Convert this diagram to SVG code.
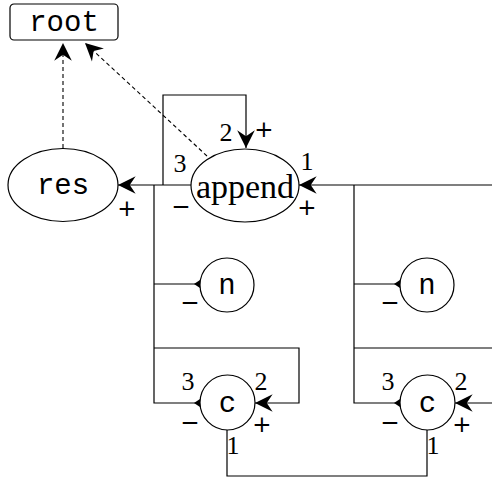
<svg xmlns="http://www.w3.org/2000/svg" width="492" height="483" viewBox="0 0 492 483">
<style>
.ln{fill:none;stroke:#000;stroke-width:1.2}
.dash{fill:none;stroke:#000;stroke-width:1.1;stroke-dasharray:4,3}
.shape{fill:#fff;stroke:#000;stroke-width:1.2}
.mono{font-family:"Liberation Mono","DejaVu Sans Mono",monospace;font-size:29px;text-anchor:middle;dominant-baseline:central}
.rom{font-family:"Liberation Serif","DejaVu Serif",serif;text-anchor:middle;dominant-baseline:central}
.num{font-family:"Liberation Serif","DejaVu Serif",serif;font-size:26px;text-anchor:middle;dominant-baseline:central}
.sgn{font-family:"DejaVu Sans","Liberation Sans",sans-serif;font-size:23px;text-anchor:middle;dominant-baseline:central}
</style>
<defs>
<marker id="ah" markerUnits="userSpaceOnUse" markerWidth="20" markerHeight="20" viewBox="-16 -8 17 16" refX="0" refY="0" orient="auto">
<path d="M0,0 L-15,-7.5 L-10,0 L-15,7.5 Z" fill="#000"/>
</marker>
</defs>
<g id="connectors">
<path class="dash" d="M63,148 L63,43" marker-end="url(#ah)"/>
<path class="dash" d="M207,156 L85,43" marker-end="url(#ah)"/>
<path class="ln" d="M191,185 L118,185" marker-end="url(#ah)"/>
<path class="ln" d="M163,185 L163,95 L246,95 L246,148" marker-end="url(#ah)"/>
<path class="ln" d="M492,185 L299,185" marker-end="url(#ah)"/>
<path class="ln" d="M154,185 L154,403 L200,403"/>
<path class="ln" d="M154,284 L200,284"/>
<path class="ln" d="M154,348 L299,348 L299,403 L255,403" marker-end="url(#ah)"/>
<path class="ln" d="M354,185 L354,403 L400,403"/>
<path class="ln" d="M354,284 L400,284"/>
<path class="ln" d="M354,348 L492,348"/>
<path class="ln" d="M492,403 L455,403" marker-end="url(#ah)"/>
<path class="ln" d="M227,430 L227,476 L427,476 L427,430"/>
<path d="M194,284 L200,280 L200,288 Z" fill="#000"/>
<path d="M394,284 L400,280 L400,288 Z" fill="#000"/>
<path d="M194,403 L200,399 L200,407 Z" fill="#000"/>
<path d="M394,403 L400,399 L400,407 Z" fill="#000"/>
</g>
<g id="root">
<rect class="shape" x="10" y="4" width="108" height="36" rx="4"/>
<text class="mono" x="64" y="23">root</text>
</g>
<g id="res">
<ellipse class="shape" cx="63" cy="185" rx="55" ry="36.5"/>
<text class="mono" x="63" y="186">res</text>
<text class="sgn" x="127" y="208">+</text>
</g>
<g id="append">
<ellipse class="shape" cx="245" cy="185.5" rx="54" ry="36.5"/>
<text class="rom" x="245" y="186" style="font-size:34px">append</text>
<text class="num" x="180" y="163">3</text>
<text class="sgn" x="181" y="206">−</text>
<text class="num" x="226" y="132">2</text>
<text class="sgn" x="264" y="129">+</text>
<text class="num" x="307" y="161">1</text>
<text class="sgn" x="307" y="207">+</text>
</g>
<g id="n1">
<circle class="shape" cx="227" cy="285" r="27"/>
<text class="mono" x="227" y="286">n</text>
<text class="sgn" x="190" y="302">−</text>
</g>
<g id="n2">
<circle class="shape" cx="427" cy="285" r="27"/>
<text class="mono" x="427" y="286">n</text>
<text class="sgn" x="390" y="302">−</text>
</g>
<g id="c1">
<circle class="shape" cx="227.5" cy="402.5" r="27.5"/>
<text class="mono" x="227.5" y="404">c</text>
<text class="num" x="188" y="381">3</text>
<text class="num" x="261" y="381">2</text>
<text class="sgn" x="190" y="422">−</text>
<text class="sgn" x="262" y="424">+</text>
<text class="num" x="233" y="445">1</text>
</g>
<g id="c2">
<circle class="shape" cx="427.5" cy="402.5" r="27.5"/>
<text class="mono" x="427.5" y="404">c</text>
<text class="num" x="388" y="381">3</text>
<text class="num" x="461" y="381">2</text>
<text class="sgn" x="390" y="422">−</text>
<text class="sgn" x="462" y="424">+</text>
<text class="num" x="433" y="445">1</text>
</g>
</svg>
